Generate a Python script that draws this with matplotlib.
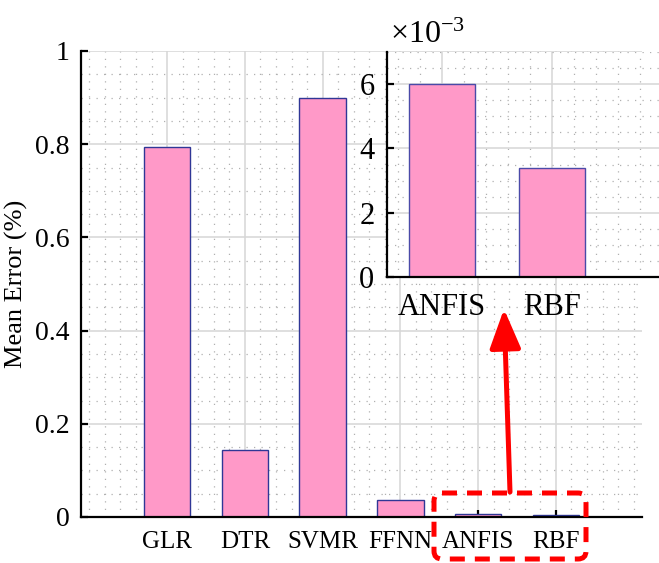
import matplotlib
matplotlib.use('Agg')
import matplotlib.pyplot as plt
import numpy as np
from matplotlib.ticker import MultipleLocator
from matplotlib.patches import FancyBboxPatch, FancyArrowPatch

plt.rcParams['font.family'] = ['Liberation Serif', 'DejaVu Serif']
plt.rcParams['mathtext.fontset'] = 'custom'
plt.rcParams['mathtext.rm'] = 'Liberation Serif'

# mean error of each model
models = ['GLR', 'DTR', 'SVMR', 'FFNN', 'ANFIS', 'RBF']
mean_err = [0.795, 0.143, 0.900, 0.037, 0.0060, 0.0034]

# zoomed models
zoom_models = ['ANFIS', 'RBF']
zoom_err = [0.0060, 0.0034]

W, H = 659, 563
fig = plt.figure(figsize=(W / 100, H / 100), dpi=100)

def px_axes(l, t, r, b):
    return fig.add_axes([l / W, 1 - b / H, (r - l) / W, (b - t) / H])

bar_face = '#ff99c8'
bar_edge = '#2f3796'
major_grid = dict(color='#d6d6d6', linewidth=1.1, linestyle='-')
minor_grid = dict(color='#b0b0b0', linewidth=0.9, linestyle=(0, (1, 5)))

def style(ax, xfs, yfs):
    for s in ['top', 'right']:
        ax.spines[s].set_visible(False)
    for s in ['left', 'bottom']:
        ax.spines[s].set_linewidth(1.6)
    ax.tick_params(which='major', direction='in', length=5, width=1.6)
    ax.tick_params(which='minor', length=0)
    ax.tick_params(axis='x', labelsize=xfs)
    ax.tick_params(axis='y', labelsize=yfs)
    ax.grid(True, which='major', **major_grid)
    ax.grid(True, which='minor', **minor_grid)
    ax.set_axisbelow(True)

# main chart
ax = px_axes(81, 51, 642, 517)
x = np.arange(1, len(models) + 1)
ax.bar(x, mean_err, width=0.6, color=bar_face, edgecolor=bar_edge, linewidth=1.0)
ax.set_xlim(-0.107, 7.107)
ax.set_ylim(0, 1)
ax.set_xticks(x)
ax.set_xticklabels(models)
ax.xaxis.set_minor_locator(MultipleLocator(0.2))
ax.set_yticks(np.arange(0, 1.01, 0.2))
ax.set_yticklabels(['%g' % v for v in np.round(np.arange(0, 1.01, 0.2), 1)])
ax.yaxis.set_minor_locator(MultipleLocator(0.05))
style(ax, 18, 20)
ax.tick_params(axis='x', pad=10)
ax.tick_params(axis='y', pad=8)
ax.set_ylabel('Mean Error (%)', fontsize=19, labelpad=5)

# inset with the two smallest errors
axi = px_axes(387, 51.7, 659, 277.3)
xi = np.arange(1, len(zoom_models) + 1)
axi.bar(xi, zoom_err, width=0.6, color=bar_face, edgecolor='#4a4aa8', linewidth=1.0)
axi.set_xlim(0.5, 2.969)
axi.set_ylim(0, 0.007)
axi.set_xticks(xi)
axi.set_xticklabels(zoom_models)
axi.xaxis.set_minor_locator(MultipleLocator(0.2))
yt = [0, 0.002, 0.004, 0.006]
axi.set_yticks(yt)
axi.set_yticklabels(['%g' % (v * 1e3) for v in yt])
axi.yaxis.set_minor_locator(MultipleLocator(0.0005))
style(axi, 22, 22)
axi.tick_params(axis='x', pad=11)
axi.tick_params(axis='y', pad=9)
axi.text(0.012, 1.039, r'$\times\mathregular{10^{-3}}$', transform=axi.transAxes,
         fontsize=23, va='baseline', ha='left')

# overlay in pixel units for the highlight box and arrow
ov = fig.add_axes([0, 0, 1, 1])
ov.set_xlim(0, W)
ov.set_ylim(H, 0)
ov.axis('off')
ov.patch.set_alpha(0)
box = FancyBboxPatch((434, 493), 152, 66, boxstyle='round,pad=0,rounding_size=8',
                     fill=False, edgecolor='red', linewidth=3.6, linestyle=(0, (3, 2)))
ov.add_patch(box)
arrow = FancyArrowPatch((510, 492), (504, 309),
                        arrowstyle='-|>,head_length=2.4,head_width=0.95',
                        mutation_scale=10, color='red', linewidth=3.6,
                        shrinkA=0, shrinkB=0)
ov.add_patch(arrow)

fig.savefig('out.png', dpi=100)
